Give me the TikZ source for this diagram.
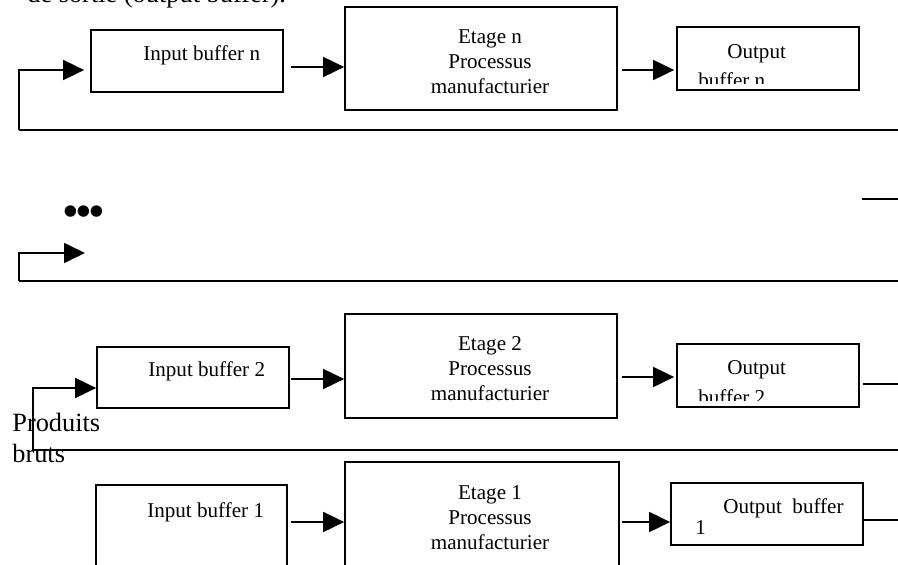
\documentclass[tikz,border=0pt]{standalone}
\usepackage{fontspec}
\setmainfont{Liberation Serif}
\usetikzlibrary{arrows.meta}

\tikzset{
  box/.style={draw, line width=1pt, inner sep=0pt},
  txt/.style={inner sep=0pt, anchor=base west, font=\fontsize{12}{14}\selectfont},
  stagetxt/.style={inner sep=0pt, align=center, font=\fontsize{12}{14.2}\selectfont},
  bigtxt/.style={inner sep=0pt, anchor=base west, font=\fontsize{15}{17.6}\selectfont},
  link/.style={line width=1pt, -{Triangle[length=0.42cm, width=0.4cm]}},
  sep/.style={line width=1.4pt},
}

\begin{document}
\begin{tikzpicture}[x=0.02cm, y=-0.02cm]
\useasboundingbox (0,0) rectangle (898,564);

% line of text above, cut by the page
\node[bigtxt] (head) at (27,3) {de sortie (output buffer).};

% stage n
\node[box, minimum width=3.84cm, minimum height=1.24cm] (inn) at (187,61) {};
\node[txt] (inntxt) at (143,61) {Input buffer n};
\node[box, minimum width=5.44cm, minimum height=2.06cm] (etn) at (481,58.5) {};
\node[stagetxt] (etntxt) at (490,62) {Etage n\\Processus\\manufacturier};
\node[box, minimum width=3.64cm, minimum height=1.26cm] (outn) at (768,58.5) {};
\node[txt] (outntxt) at (727,59) {Output};
\begin{scope}
\clip (outn.north west) rectangle ([yshift=0.14cm]outn.south east);
\node[txt] (outntxtb) at (698,88) {buffer n};
\end{scope}
\coordinate (fbn) at (19,130);
\coordinate (fbnend) at (898,130);
\draw[link] (fbn) |- ([xshift=-0.12cm]inn.west |- 0,70);
\draw[link] (inn.east |- 0,67) ++(7,0) -- (etn.west |- 0,67);
\draw[link] (etn.east |- 0,70) ++(4,0) -- ([xshift=-0.04cm]outn.west |- 0,70);
\draw[sep] (fbn) -- (fbnend);

% stages between
\node[inner sep=0pt, font=\fontsize{24}{28}\selectfont\bfseries] (dots) at (84,216) {\textbullet\kern-0.8pt\textbullet\kern-0.8pt\textbullet};
\coordinate (stubma) at (862,199);
\coordinate (stubmb) at (898,199);
\draw[sep] (stubma) -- (stubmb);
\coordinate (fbm) at (19,281);
\coordinate (fbmtip) at (85,253);
\coordinate (fbmend) at (898,281);
\draw[link] (fbm) |- (fbmtip);
\draw[sep] (fbm) -- (fbmend);

% stage 2
\node[box, minimum width=3.84cm, minimum height=1.22cm] (in2) at (193,377.5) {};
\node[txt] (in2txt) at (148,376) {Input buffer 2};
\node[box, minimum width=5.44cm, minimum height=2.08cm] (et2) at (481,366) {};
\node[stagetxt] (et2txt) at (490,369) {Etage 2\\Processus\\manufacturier};
\node[box, minimum width=3.64cm, minimum height=1.26cm] (out2) at (768,375.5) {};
\node[txt] (out2txt) at (727,374) {Output};
\begin{scope}
\clip (out2.north west) rectangle ([yshift=0.14cm]out2.south east);
\node[txt] (out2txtb) at (698,404) {buffer 2};
\end{scope}
\coordinate (fb2) at (33,450);
\coordinate (fb2end) at (898,450);
\draw[link] (fb2) |- (in2.west |- 0,388);
\draw[link] (in2.east |- 0,379) ++(1,0) -- (et2.west |- 0,379);
\draw[link] (et2.east |- 0,377) ++(4,0) -- ([xshift=-0.04cm]out2.west |- 0,377);
\coordinate (stub2) at (898,384);
\draw[line width=1pt] (out2.east |- 0,384) ++(3,0) -- (stub2);
\draw[sep] (fb2) -- (fb2end);
\node[bigtxt] (raw) at (12,431) {Produits};
\node[bigtxt] (rawb) at (12,462) {bruts};

% stage 1
\node[box, minimum width=3.82cm, minimum height=1.9cm] (in1) at (191.5,532.5) {};
\node[txt] (in1txt) at (147,517) {Input buffer 1};
\node[box, minimum width=5.48cm, minimum height=2.08cm] (et1) at (482,514) {};
\node[stagetxt] (et1txt) at (490,518) {Etage 1\\Processus\\manufacturier};
\node[box, minimum width=3.84cm, minimum height=1.24cm] (out1) at (767,514) {};
\node[txt] (out1txt) at (723,513) {Output\ \ buffer};
\node[txt] (out1txtb) at (695,534) {1};
\draw[link] (in1.east |- 0,522) ++(3,0) -- (et1.west |- 0,522);
\draw[link] (et1.east |- 0,522) ++(2,0) -- (out1.west |- 0,522);
\coordinate (stub1) at (898,520);
\draw[line width=1pt] (out1.east |- 0,520) -- (stub1);
\end{tikzpicture}
\end{document}
